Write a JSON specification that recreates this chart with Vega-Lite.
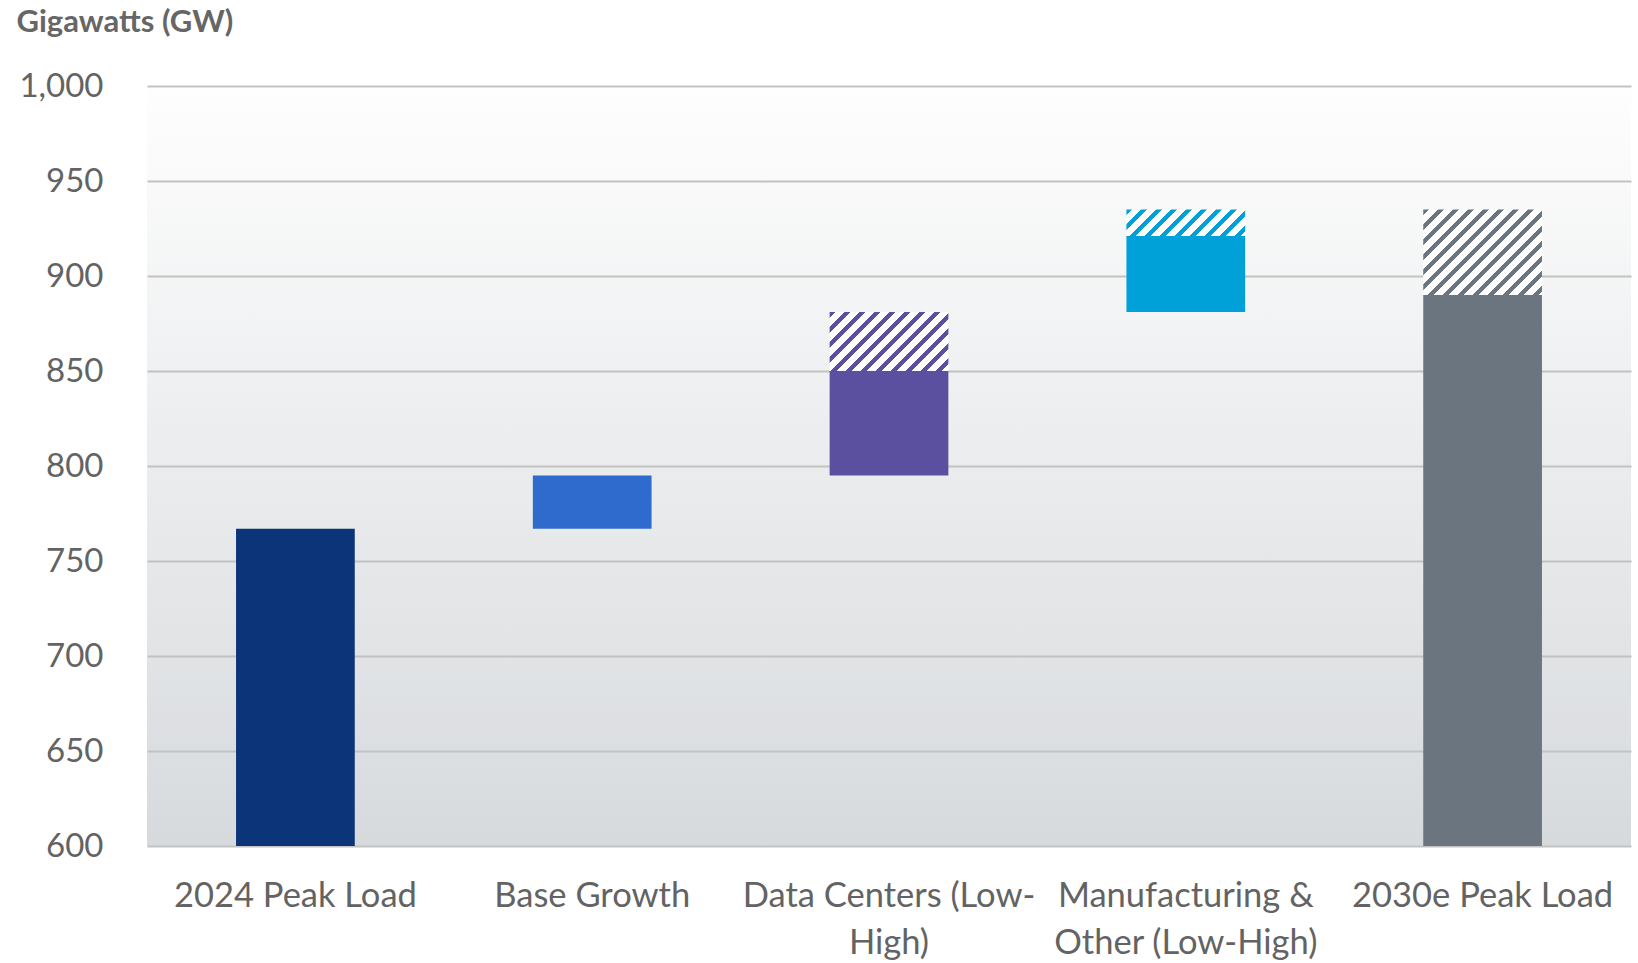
{
  "$schema": "https://vega.github.io/schema/vega-lite/v6.json",
  "autosize": {"type": "none"},
  "width": 1484,
  "height": 760,
  "padding": {"left": 147, "top": 86, "right": 7, "bottom": 117},
  "background": "#ffffff",
  "view": {
    "stroke": null,
    "fill": {"gradient": "linear", "x1": 0, "y1": 0, "x2": 0, "y2": 1,
      "stops": [{"offset": 0, "color": "#fefefe"}, {"offset": 1, "color": "#d7dadd"}]}
  },
  "data": {
    "values": [
      {"stage": "2024 Peak Load", "part": "solid", "low": 0, "high": 767},
      {"stage": "Base Growth", "part": "solid", "low": 767, "high": 795},
      {"stage": "Data Centers (Low-High)", "part": "solid", "low": 795, "high": 850},
      {"stage": "Data Centers (Low-High)", "part": "range", "low": 850, "high": 881},
      {"stage": "Manufacturing & Other (Low-High)", "part": "solid", "low": 881, "high": 921},
      {"stage": "Manufacturing & Other (Low-High)", "part": "range", "low": 921, "high": 935},
      {"stage": "2030e Peak Load", "part": "solid", "low": 0, "high": 890},
      {"stage": "2030e Peak Load", "part": "range", "low": 890, "high": 935}
    ]
  },
  "encoding": {
    "x": {
      "field": "stage", "type": "nominal", "sort": null,
      "scale": {"paddingInner": 0, "paddingOuter": 0},
      "axis": {
        "title": null, "domain": false, "ticks": false, "tickSize": 0,
        "labelAngle": 0, "labelFont": "Lato", "labelFontSize": 34.5, "labelColor": "#636363",
        "labelPadding": 33, "labelLimit": 0, "labelOverlap": false, "labelBound": false,
        "labelLineHeight": 47,
        "labelExpr": "datum.value == 'Data Centers (Low-High)' ? ['Data Centers (Low-', 'High)'] : datum.value == 'Manufacturing & Other (Low-High)' ? ['Manufacturing &', 'Other (Low-High)'] : datum.value"
      }
    },
    "y": {
      "field": "high", "type": "quantitative",
      "scale": {"domain": [600, 1000], "nice": false, "zero": false},
      "axis": {
        "values": [600, 650, 700, 750, 800, 850, 900, 950, 1000],
        "format": ",.0f", "domain": false, "ticks": false, "tickSize": 0,
        "labelFont": "Lato", "labelFontSize": 33, "labelColor": "#636363", "labelPadding": 44,
        "gridColor": "#c2c2c2", "gridWidth": 2,
        "title": "Gigawatts (GW)", "titleAngle": 0, "titleAlign": "left", "titleBaseline": "alphabetic",
        "titleX": -131, "titleY": -55, "titleFont": "Lato", "titleFontSize": 31,
        "titleFontWeight": "bold", "titleColor": "#666666"
      }
    },
    "y2": {"field": "low"}
  },
  "layer": [
    {
      "transform": [{"filter": "datum.part == 'solid'"}],
      "mark": {"type": "bar", "clip": true, "width": {"band": 0.4}},
      "encoding": {
        "color": {
          "field": "stage", "type": "nominal", "legend": null,
          "scale": {
            "domain": ["2024 Peak Load", "Base Growth", "Data Centers (Low-High)", "Manufacturing & Other (Low-High)", "2030e Peak Load"],
            "range": ["#0b3479", "#2e6bcd", "#5b4f9f", "#00a1d9", "#6b7580"]
          }
        }
      }
    },
    {
      "transform": [{"filter": "datum.part == 'range' && datum.stage == 'Data Centers (Low-High)'"}],
      "mark": {"type": "bar", "width": {"band": 0.4},
        "fill": {"gradient": "linear", "x1": 0, "y1": 0, "x2": 1.2006, "y2": 0.5957,
          "stops": [
            {"offset": 0, "color": "#5b4f9f"}, {"offset": 0.03378, "color": "#5b4f9f"}, {"offset": 0.03378, "color": "#ffffff"}, {"offset": 0.08445, "color": "#ffffff"},
            {"offset": 0.08445, "color": "#5b4f9f"}, {"offset": 0.11823, "color": "#5b4f9f"}, {"offset": 0.11823, "color": "#ffffff"}, {"offset": 0.1689, "color": "#ffffff"},
            {"offset": 0.1689, "color": "#5b4f9f"}, {"offset": 0.20268, "color": "#5b4f9f"}, {"offset": 0.20268, "color": "#ffffff"}, {"offset": 0.25335, "color": "#ffffff"},
            {"offset": 0.25335, "color": "#5b4f9f"}, {"offset": 0.28713, "color": "#5b4f9f"}, {"offset": 0.28713, "color": "#ffffff"}, {"offset": 0.3378, "color": "#ffffff"},
            {"offset": 0.3378, "color": "#5b4f9f"}, {"offset": 0.37158, "color": "#5b4f9f"}, {"offset": 0.37158, "color": "#ffffff"}, {"offset": 0.42225, "color": "#ffffff"},
            {"offset": 0.42225, "color": "#5b4f9f"}, {"offset": 0.45603, "color": "#5b4f9f"}, {"offset": 0.45603, "color": "#ffffff"}, {"offset": 0.5067, "color": "#ffffff"},
            {"offset": 0.5067, "color": "#5b4f9f"}, {"offset": 0.54048, "color": "#5b4f9f"}, {"offset": 0.54048, "color": "#ffffff"}, {"offset": 0.59115, "color": "#ffffff"},
            {"offset": 0.59115, "color": "#5b4f9f"}, {"offset": 0.62493, "color": "#5b4f9f"}, {"offset": 0.62493, "color": "#ffffff"}, {"offset": 0.6756, "color": "#ffffff"},
            {"offset": 0.6756, "color": "#5b4f9f"}, {"offset": 0.70938, "color": "#5b4f9f"}, {"offset": 0.70938, "color": "#ffffff"}, {"offset": 0.76005, "color": "#ffffff"},
            {"offset": 0.76005, "color": "#5b4f9f"}, {"offset": 0.79383, "color": "#5b4f9f"}, {"offset": 0.79383, "color": "#ffffff"}, {"offset": 0.8445, "color": "#ffffff"},
            {"offset": 0.8445, "color": "#5b4f9f"}, {"offset": 0.87828, "color": "#5b4f9f"}, {"offset": 0.87828, "color": "#ffffff"}, {"offset": 0.92895, "color": "#ffffff"},
            {"offset": 0.92895, "color": "#5b4f9f"}, {"offset": 0.96273, "color": "#5b4f9f"}, {"offset": 0.96273, "color": "#ffffff"}, {"offset": 1, "color": "#ffffff"}
          ]}
      }
    },
    {
      "transform": [{"filter": "datum.part == 'range' && datum.stage == 'Manufacturing & Other (Low-High)'"}],
      "mark": {"type": "bar", "width": {"band": 0.4},
        "fill": {"gradient": "linear", "x1": 0, "y1": 0, "x2": 1.1656, "y2": 0.2612,
          "stops": [
            {"offset": 0, "color": "#00a1d9"}, {"offset": 0.041288, "color": "#00a1d9"}, {"offset": 0.041288, "color": "#ffffff"}, {"offset": 0.103221, "color": "#ffffff"},
            {"offset": 0.103221, "color": "#00a1d9"}, {"offset": 0.144509, "color": "#00a1d9"}, {"offset": 0.144509, "color": "#ffffff"}, {"offset": 0.206441, "color": "#ffffff"},
            {"offset": 0.206441, "color": "#00a1d9"}, {"offset": 0.247729, "color": "#00a1d9"}, {"offset": 0.247729, "color": "#ffffff"}, {"offset": 0.309662, "color": "#ffffff"},
            {"offset": 0.309662, "color": "#00a1d9"}, {"offset": 0.35095, "color": "#00a1d9"}, {"offset": 0.35095, "color": "#ffffff"}, {"offset": 0.412882, "color": "#ffffff"},
            {"offset": 0.412882, "color": "#00a1d9"}, {"offset": 0.45417, "color": "#00a1d9"}, {"offset": 0.45417, "color": "#ffffff"}, {"offset": 0.516103, "color": "#ffffff"},
            {"offset": 0.516103, "color": "#00a1d9"}, {"offset": 0.557391, "color": "#00a1d9"}, {"offset": 0.557391, "color": "#ffffff"}, {"offset": 0.619323, "color": "#ffffff"},
            {"offset": 0.619323, "color": "#00a1d9"}, {"offset": 0.660611, "color": "#00a1d9"}, {"offset": 0.660611, "color": "#ffffff"}, {"offset": 0.722544, "color": "#ffffff"},
            {"offset": 0.722544, "color": "#00a1d9"}, {"offset": 0.763832, "color": "#00a1d9"}, {"offset": 0.763832, "color": "#ffffff"}, {"offset": 0.825764, "color": "#ffffff"},
            {"offset": 0.825764, "color": "#00a1d9"}, {"offset": 0.867052, "color": "#00a1d9"}, {"offset": 0.867052, "color": "#ffffff"}, {"offset": 0.928985, "color": "#ffffff"},
            {"offset": 0.928985, "color": "#00a1d9"}, {"offset": 0.970273, "color": "#00a1d9"}, {"offset": 0.970273, "color": "#ffffff"}, {"offset": 1, "color": "#ffffff"}
          ]}
      }
    },
    {
      "transform": [{"filter": "datum.part == 'range' && datum.stage == '2030e Peak Load'"}],
      "mark": {"type": "bar", "width": {"band": 0.4},
        "fill": {"gradient": "linear", "x1": 0, "y1": 0, "x2": 1.1327, "y2": 0.8158,
          "stops": [
            {"offset": 0, "color": "#6b7580"}, {"offset": 0.02938, "color": "#6b7580"}, {"offset": 0.02938, "color": "#ffffff"}, {"offset": 0.07345, "color": "#ffffff"},
            {"offset": 0.07345, "color": "#6b7580"}, {"offset": 0.10283, "color": "#6b7580"}, {"offset": 0.10283, "color": "#ffffff"}, {"offset": 0.1469, "color": "#ffffff"},
            {"offset": 0.1469, "color": "#6b7580"}, {"offset": 0.17628, "color": "#6b7580"}, {"offset": 0.17628, "color": "#ffffff"}, {"offset": 0.22035, "color": "#ffffff"},
            {"offset": 0.22035, "color": "#6b7580"}, {"offset": 0.24973, "color": "#6b7580"}, {"offset": 0.24973, "color": "#ffffff"}, {"offset": 0.2938, "color": "#ffffff"},
            {"offset": 0.2938, "color": "#6b7580"}, {"offset": 0.32318, "color": "#6b7580"}, {"offset": 0.32318, "color": "#ffffff"}, {"offset": 0.36725, "color": "#ffffff"},
            {"offset": 0.36725, "color": "#6b7580"}, {"offset": 0.39663, "color": "#6b7580"}, {"offset": 0.39663, "color": "#ffffff"}, {"offset": 0.4407, "color": "#ffffff"},
            {"offset": 0.4407, "color": "#6b7580"}, {"offset": 0.47008, "color": "#6b7580"}, {"offset": 0.47008, "color": "#ffffff"}, {"offset": 0.51415, "color": "#ffffff"},
            {"offset": 0.51415, "color": "#6b7580"}, {"offset": 0.54353, "color": "#6b7580"}, {"offset": 0.54353, "color": "#ffffff"}, {"offset": 0.5876, "color": "#ffffff"},
            {"offset": 0.5876, "color": "#6b7580"}, {"offset": 0.61698, "color": "#6b7580"}, {"offset": 0.61698, "color": "#ffffff"}, {"offset": 0.66105, "color": "#ffffff"},
            {"offset": 0.66105, "color": "#6b7580"}, {"offset": 0.69043, "color": "#6b7580"}, {"offset": 0.69043, "color": "#ffffff"}, {"offset": 0.7345, "color": "#ffffff"},
            {"offset": 0.7345, "color": "#6b7580"}, {"offset": 0.76388, "color": "#6b7580"}, {"offset": 0.76388, "color": "#ffffff"}, {"offset": 0.80795, "color": "#ffffff"},
            {"offset": 0.80795, "color": "#6b7580"}, {"offset": 0.83733, "color": "#6b7580"}, {"offset": 0.83733, "color": "#ffffff"}, {"offset": 0.8814, "color": "#ffffff"},
            {"offset": 0.8814, "color": "#6b7580"}, {"offset": 0.91078, "color": "#6b7580"}, {"offset": 0.91078, "color": "#ffffff"}, {"offset": 0.95485, "color": "#ffffff"},
            {"offset": 0.95485, "color": "#6b7580"}, {"offset": 0.98423, "color": "#6b7580"}, {"offset": 0.98423, "color": "#ffffff"}, {"offset": 1, "color": "#ffffff"}
          ]}
      }
    }
  ]
}
